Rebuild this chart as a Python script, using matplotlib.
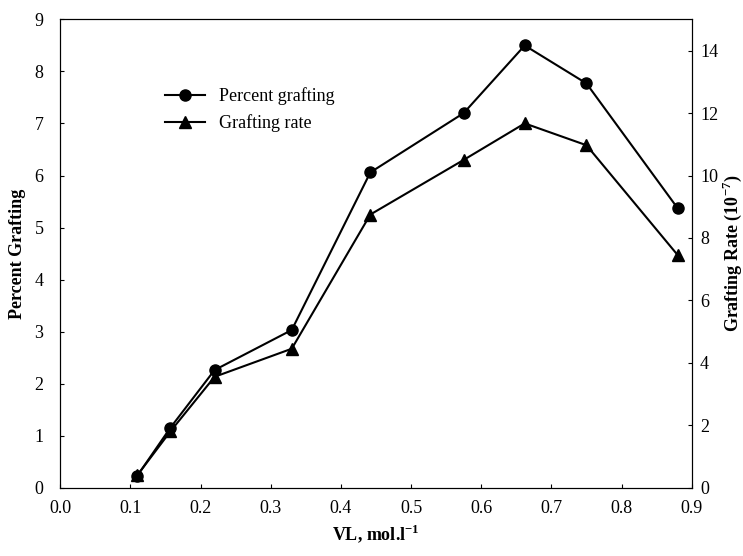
import matplotlib
matplotlib.use("Agg")
import matplotlib.pyplot as plt

plt.rcParams['font.family'] = ['Liberation Serif', 'DejaVu Serif']
plt.rcParams['mathtext.fontset'] = 'custom'
plt.rcParams['mathtext.rm'] = 'Liberation Serif'
plt.rcParams['mathtext.bf'] = 'Liberation Serif:bold'

vl = [0.11, 0.157, 0.22, 0.33, 0.442, 0.575, 0.662, 0.75, 0.88]
percent_grafting = [0.23, 1.15, 2.26, 3.03, 6.06, 7.2, 8.5, 7.77, 5.37]
grafting_rate = [0.4, 1.8, 3.55, 4.45, 8.75, 10.5, 11.67, 10.97, 7.45]

fig, ax = plt.subplots(figsize=(7.43, 5.56), dpi=100)
fig.subplots_adjust(left=0.081, right=0.931, top=0.965, bottom=0.123)

l1, = ax.plot(vl, percent_grafting, color='black', lw=1.5, marker='o', ms=8,
              label='Percent grafting')
ax.set_xlim(0, 0.9)
ax.set_ylim(0, 9)
ax.set_xticks([i / 10 for i in range(10)])
ax.set_xticklabels([f"{i / 10:.1f}" for i in range(10)])
ax.set_yticks(range(10))
ax.tick_params(direction='in', labelsize=13, length=3)
ax.tick_params(axis='x', pad=9)
ax.tick_params(axis='y', pad=12)
ax.set_xlabel(r'VL, mol.l$^{\mathbf{-1}}$', fontsize=13, fontweight='bold',
              labelpad=4)
ax.set_ylabel('Percent Grafting', fontsize=13, fontweight='bold', labelpad=6)

ax2 = ax.twinx()
l2, = ax2.plot(vl, grafting_rate, color='black', lw=1.5, marker='^', ms=8,
               label='Grafting rate')
ax2.set_ylim(0, 15)
ax2.set_yticks(range(0, 15, 2))
ax2.tick_params(direction='in', labelsize=13, length=3, pad=6)
ax2.set_ylabel(r'Grafting Rate (10$^{\mathbf{-7}}$)', fontsize=13,
               fontweight='bold', labelpad=2)

ax.legend(handles=[l1, l2], loc='upper left', bbox_to_anchor=(0.14, 0.89),
          frameon=False, fontsize=13, handlelength=2.2)

fig.savefig('out.png', dpi=100)
